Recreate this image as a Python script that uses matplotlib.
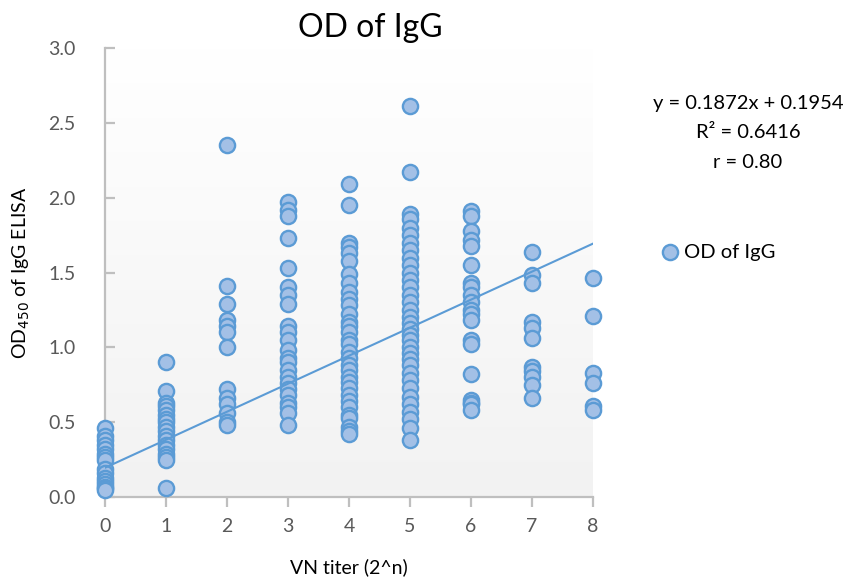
import numpy as np
import matplotlib.pyplot as plt

plt.rcParams["font.family"] = ["Lato", "DejaVu Sans"]

# OD450 values, grouped by VN titer (2^n)
od_titer0 = [0.46, 0.41, 0.38, 0.35, 0.32, 0.29, 0.27, 0.25, 0.19, 0.16,
             0.13, 0.11, 0.09, 0.07, 0.06, 0.05]
od_titer1 = [0.90, 0.71, 0.63, 0.61, 0.58, 0.55, 0.52, 0.50, 0.47, 0.44,
             0.41, 0.38, 0.35, 0.32, 0.29, 0.27, 0.25, 0.06]
od_titer2 = [2.35, 1.41, 1.29, 1.18, 1.14, 1.10, 1.00, 0.72, 0.66, 0.62,
             0.56, 0.50, 0.48]
od_titer3 = [1.97, 1.92, 1.88, 1.73, 1.53, 1.40, 1.35, 1.29, 1.14, 1.10,
             1.05, 0.98, 0.93, 0.90, 0.85, 0.80, 0.76, 0.72, 0.68, 0.63,
             0.60, 0.56, 0.48]
od_titer4 = [2.09, 1.95, 1.70, 1.67, 1.63, 1.58, 1.49, 1.43, 1.37, 1.32,
             1.28, 1.22, 1.17, 1.14, 1.10, 1.05, 1.02, 0.97, 0.93, 0.88,
             0.85, 0.80, 0.77, 0.73, 0.68, 0.64, 0.60, 0.55, 0.53, 0.47,
             0.44, 0.42]
od_titer5 = [2.61, 2.17, 1.89, 1.86, 1.80, 1.75, 1.70, 1.65, 1.60, 1.55,
             1.50, 1.45, 1.40, 1.35, 1.30, 1.25, 1.20, 1.16, 1.12, 1.08,
             1.05, 1.00, 0.96, 0.92, 0.88, 0.83, 0.78, 0.73, 0.67, 0.62,
             0.57, 0.52, 0.46, 0.38]
od_titer6 = [1.91, 1.88, 1.78, 1.72, 1.68, 1.55, 1.43, 1.40, 1.35, 1.30,
             1.25, 1.22, 1.18, 1.05, 1.02, 0.82, 0.65, 0.63, 0.62, 0.58]
od_titer7 = [1.64, 1.48, 1.43, 1.17, 1.13, 1.06, 0.87, 0.84, 0.80, 0.75, 0.66]
od_titer8 = [1.46, 1.21, 0.83, 0.76, 0.61, 0.58]

groups = [od_titer0, od_titer1, od_titer2, od_titer3, od_titer4,
          od_titer5, od_titer6, od_titer7, od_titer8]

# trendline reported on the chart
slope = 0.1872
intercept = 0.1954
fit_lines = ["y = 0.1872x + 0.1954", "R² = 0.6416", "r = 0.80"]

x_vals = np.concatenate([[titer] * len(g) for titer, g in enumerate(groups)])
y_vals = np.concatenate(groups)

fig = plt.figure(figsize=(8.53, 5.83), dpi=100)
ax = fig.add_axes([105 / 853, 1 - 497 / 583, 488 / 853, 449 / 583])

# light vertical gradient behind the plot area
grad = np.linspace(0, 1, 256).reshape(-1, 1)
ax.imshow(grad, cmap=plt.matplotlib.colors.LinearSegmentedColormap.from_list(
    "bg", ["#F2F2F2", "#FFFFFF"]), aspect="auto",
    extent=[0, 8, 0, 3], origin="lower", zorder=0)

axis_color = "#BFBFBF"
ax.scatter(x_vals, y_vals, s=120, color="#A3C0E6", edgecolor="#5B9BD5",
           linewidth=1.7, zorder=3, clip_on=False, label="OD of IgG")

fit_x = np.array([0, 8])
ax.plot(fit_x, slope * fit_x + intercept, color="#5B9BD5", linewidth=1.5,
        zorder=4)

ax.set_xlim(0, 8)
ax.set_ylim(0, 3)
ax.set_xticks(range(9))
ax.set_yticks(np.arange(0, 3.01, 0.5))
ax.yaxis.set_major_formatter(plt.FormatStrFormatter("%.1f"))

for side in ["top", "right"]:
    ax.spines[side].set_visible(False)
for side in ["left", "bottom"]:
    ax.spines[side].set_color(axis_color)
    ax.spines[side].set_linewidth(1.6)

ax.tick_params(axis="x", direction="out", length=7, width=1.6,
               color=axis_color, labelcolor="#595959", labelsize=14, pad=8)
ax.tick_params(axis="y", direction="in", length=7, width=1.6,
               color=axis_color, labelcolor="#595959", labelsize=14, pad=21)

ax.set_xlabel("VN titer (2^n)", fontsize=14, labelpad=17)
ax.set_ylabel("OD$_{450}$ of IgG ELISA", fontsize=14, labelpad=12)
fig.text(370 / 853, 1 - 28 / 583, "OD of IgG", fontsize=23,
         ha="center", va="center")

for i, line in enumerate(fit_lines):
    fig.text(748 / 853, 1 - (104 + 29 * i) / 583, line, fontsize=14.5,
             ha="center", va="center")

ax.legend(loc="center left", bbox_to_anchor=(648 / 853, 1 - 252 / 583),
          bbox_transform=fig.transFigure, frameon=False, fontsize=14.5,
          handletextpad=0.1, borderpad=0, markerscale=1.0, handlelength=1.2)

fig.savefig("out.png", dpi=100)
